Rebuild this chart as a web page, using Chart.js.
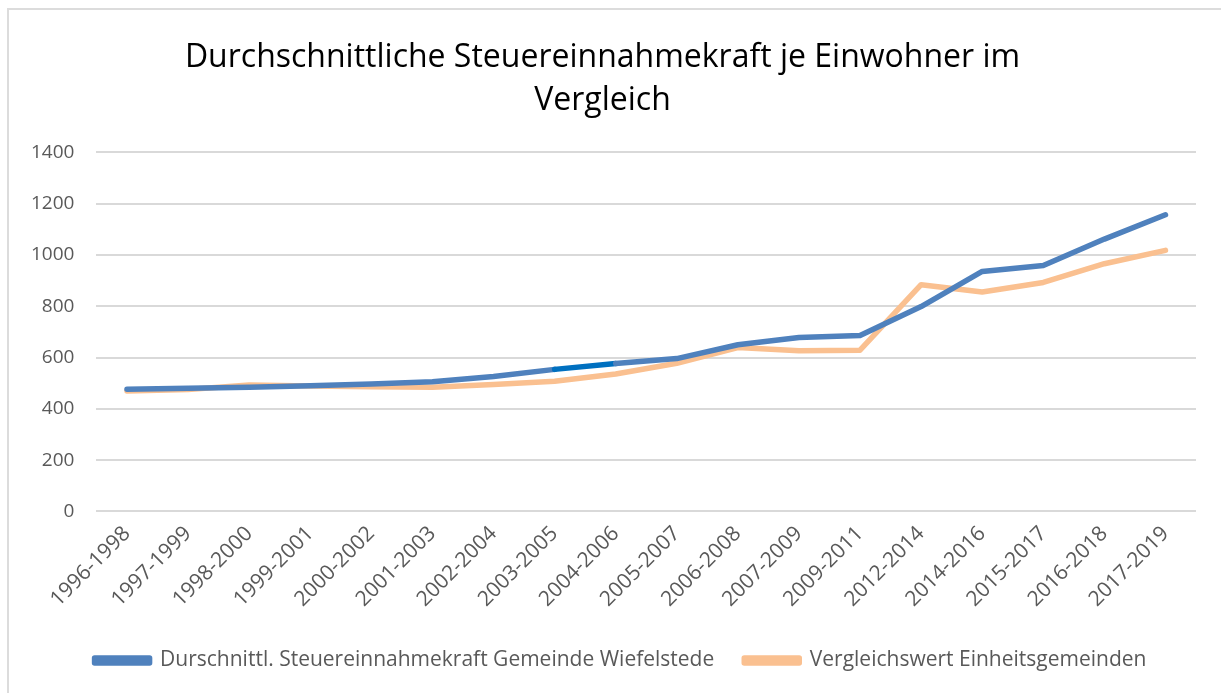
<!DOCTYPE html>
<html>
<head>
<meta charset="utf-8">
<script src="https://cdn.jsdelivr.net/npm/chart.js@4"></script>
<style>
  html, body { margin:0; padding:0; background:#fff; overflow:hidden; }
  #frame { position:absolute; left:7px; top:8px; width:1300px; height:800px; border:2px solid #DCDCDC; box-sizing:border-box; }
  #wrap { position:absolute; left:0; top:0; width:1221px; height:693px; }
</style>
</head>
<body>
<div id="frame"></div>
<div id="wrap"><canvas id="c" width="1221" height="693"></canvas></div>
<script>
const categories = ["1996-1998","1997-1999","1998-2000","1999-2001","2000-2002","2001-2003","2002-2004","2003-2005","2004-2006","2005-2007","2006-2008","2007-2009","2009-2011","2012-2014","2014-2016","2015-2017","2016-2018","2017-2019"];
const wiefelstede = [477, 480, 484, 490, 497, 506, 526, 554, 577, 596, 650, 678, 686, 799, 936, 959, 1062, 1157];
const vergleich   = [470, 476, 493, 489, 486, 484, 495, 508, 536, 578, 639, 627, 629, 884, 856, 893, 966, 1018];
const yTicks = [0, 200, 400, 600, 800, 1000, 1200, 1400];
const titleLines = ["Durchschnittliche Steuereinnahmekraft je Einwohner im", "Vergleich"];
const seriesNames = ["Durschnittl. Steuereinnahmekraft Gemeinde Wiefelstede", "Vergleichswert Einheitsgemeinden"];

const BLUE = "#4F81BD", DARKBLUE = "#0070C0", ORANGE = "#FAC090";
const FONT = "'Open Sans', 'Liberation Sans', sans-serif";

const shiftLegend = {
  id: "shiftLegend",
  afterLayout(chart) {
    const lg = chart.legend;
    if (lg) { lg.left += 18; lg.right += 18; lg.top += 6; lg.bottom += 6; }
  }
};

new Chart(document.getElementById("c"), {
  type: "line",
  data: {
    labels: categories,
    datasets: [
      { label: seriesNames[0], data: wiefelstede, borderColor: BLUE, backgroundColor: BLUE,
        borderWidth: 5.5, pointRadius: 0, tension: 0, borderCapStyle: "round", borderJoinStyle: "round",
        segment: { borderColor: ctx => ctx.p0DataIndex === 7 ? DARKBLUE : BLUE } },
      { label: seriesNames[1], data: vergleich, borderColor: ORANGE, backgroundColor: ORANGE,
        borderWidth: 5.5, pointRadius: 0, tension: 0, borderCapStyle: "round", borderJoinStyle: "round" }
    ]
  },
  options: {
    responsive: false,
    animation: false,
    layout: { padding: { left: 9, right: 25, top: 24, bottom: 18 } },
    plugins: {
      title: { display: true, text: titleLines, color: "#000", font: { family: FONT, size: 32, weight: "normal", lineHeight: 1.35 }, padding: { top: 12, bottom: 30 } },
      legend: { position: "bottom", labels: { color: "#595959", font: { family: FONT, size: 21 }, boxWidth: 55, boxHeight: 5, padding: 30 } },
      tooltip: { enabled: false }
    },
    scales: {
      x: {
        offset: true,
        grid: { display: false },
        border: { display: false },
        ticks: { color: "#595959", font: { family: FONT, size: 21 }, minRotation: 45, maxRotation: 45, padding: 2, autoSkip: false }
      },
      y: {
        min: 0, max: 1400,
        afterBuildTicks: s => { s.ticks = yTicks.map(v => ({ value: v })); },
        grid: { color: "#D9D9D9", lineWidth: 2, drawTicks: false },
        border: { display: false },
        ticks: { color: "#595959", font: { family: FONT, size: 19 }, padding: 22, callback: v => String(v) }
      }
    }
  },
  plugins: [shiftLegend]
});
</script>
</body>
</html>
